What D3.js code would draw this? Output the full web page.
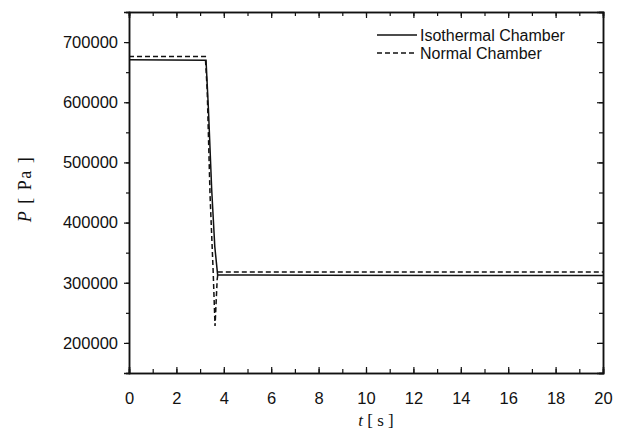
<!DOCTYPE html>
<html><head><meta charset="utf-8">
<script src="https://cdn.jsdelivr.net/npm/d3@7"></script>
<style>body{margin:0;background:#fff}svg{display:block}</style>
</head><body>
<script>
const isoT = [0, 3.25, 3.35, 3.49, 3.62, 3.74, 8, 14, 20];
const isoP = [670500, 670000, 590000, 454000, 360000, 313000, 312500, 312000, 312000];
const normT = [0, 3.22, 3.3, 3.42, 3.55, 3.63, 3.72, 3.76, 20];
const normP = [676000, 676000, 620000, 445000, 320000, 228000, 305000, 318000, 318000];
const xTicks = [0, 2, 4, 6, 8, 10, 12, 14, 16, 18, 20];
const yTicks = [200000, 300000, 400000, 500000, 600000, 700000];
const seriesNames = ["Isothermal Chamber", "Normal Chamber"];

const W = 623, H = 441;
const m = {l: 129, r: 603, t: 12, b: 373};
const svg = d3.select("body").append("svg").attr("width", W).attr("height", H);
const x = d3.scaleLinear().domain([0, 20]).range([m.l, m.r]);
const y = d3.scaleLinear().domain([150000, 750000]).range([m.b, m.t]);
const ink = "#111";
const tickFont = "Liberation Sans, Arial, sans-serif";

const xMinor = d3.range(0, 21, 1);
const yMinor = d3.range(150000, 750001, 50000);

const gB = svg.append("g").attr("transform", `translate(0,${m.b})`)
  .call(d3.axisBottom(x).tickValues(xMinor).tickSize(-4).tickFormat(""));
gB.append("g").call(d3.axisBottom(x).tickValues(xTicks).tickSize(-6).tickPadding(19).tickFormat(d3.format("d")));
svg.append("g").attr("transform", `translate(0,${m.t})`)
  .call(d3.axisTop(x).tickValues(xMinor).tickSize(-4).tickFormat(""))
  .append("g").call(d3.axisTop(x).tickValues(xTicks).tickSize(-6).tickFormat(""));
const gL = svg.append("g").attr("transform", `translate(${m.l},0)`)
  .call(d3.axisLeft(y).tickValues(yMinor).tickSize(3).tickFormat(""));
gL.append("g").call(d3.axisLeft(y).tickValues(yTicks).tickSize(5).tickPadding(6).tickFormat(d3.format("d")));
svg.append("g").attr("transform", `translate(${m.r},0)`)
  .call(d3.axisRight(y).tickValues(yMinor).tickSize(-4).tickFormat(""))
  .append("g").call(d3.axisRight(y).tickValues(yTicks).tickSize(-6).tickFormat(""));

svg.selectAll(".domain").attr("stroke", ink).attr("stroke-width", 1.5);
svg.selectAll(".tick line").attr("stroke", ink).attr("stroke-width", 1.2);
svg.selectAll(".tick text").attr("font-family", tickFont).attr("font-size", 16.5).attr("fill", ink);

const line = d3.line().x(d => x(d[0])).y(d => y(d[1]));
svg.append("path").datum(isoT.map((t, i) => [t, isoP[i]]))
  .attr("d", line).attr("fill", "none").attr("stroke", ink).attr("stroke-width", 1.5);
svg.append("path").datum(normT.map((t, i) => [t, normP[i]]))
  .attr("d", line).attr("fill", "none").attr("stroke", ink).attr("stroke-width", 1.5)
  .attr("stroke-dasharray", "5,3");

const lg = svg.append("g");
seriesNames.forEach((n, i) => {
  const yy = 35 + i * 18;
  lg.append("line").attr("x1", 377).attr("x2", 417).attr("y1", yy).attr("y2", yy)
    .attr("stroke", ink).attr("stroke-width", 1.3).attr("stroke-dasharray", i ? "5,3" : null);
  lg.append("text").attr("x", 420).attr("y", yy + 5.5).text(n)
    .attr("font-family", tickFont).attr("font-size", 16).attr("fill", ink);
});

const yt = svg.append("text").attr("transform", `translate(31,189) rotate(-90)`)
  .attr("text-anchor", "middle").attr("font-family", "Liberation Serif, Times New Roman, serif")
  .attr("font-size", 18).attr("fill", ink).attr("letter-spacing", 1.5);
yt.append("tspan").attr("font-style", "italic").text("P");
yt.append("tspan").text("  [ Pa ]");
const xt = svg.append("text").attr("x", 376).attr("y", 426)
  .attr("text-anchor", "middle").attr("font-family", "Liberation Serif, Times New Roman, serif")
  .attr("font-size", 17).attr("fill", ink);
xt.append("tspan").attr("font-style", "italic").text("t");
xt.append("tspan").text(" [ s ]");
</script>
</body></html>
